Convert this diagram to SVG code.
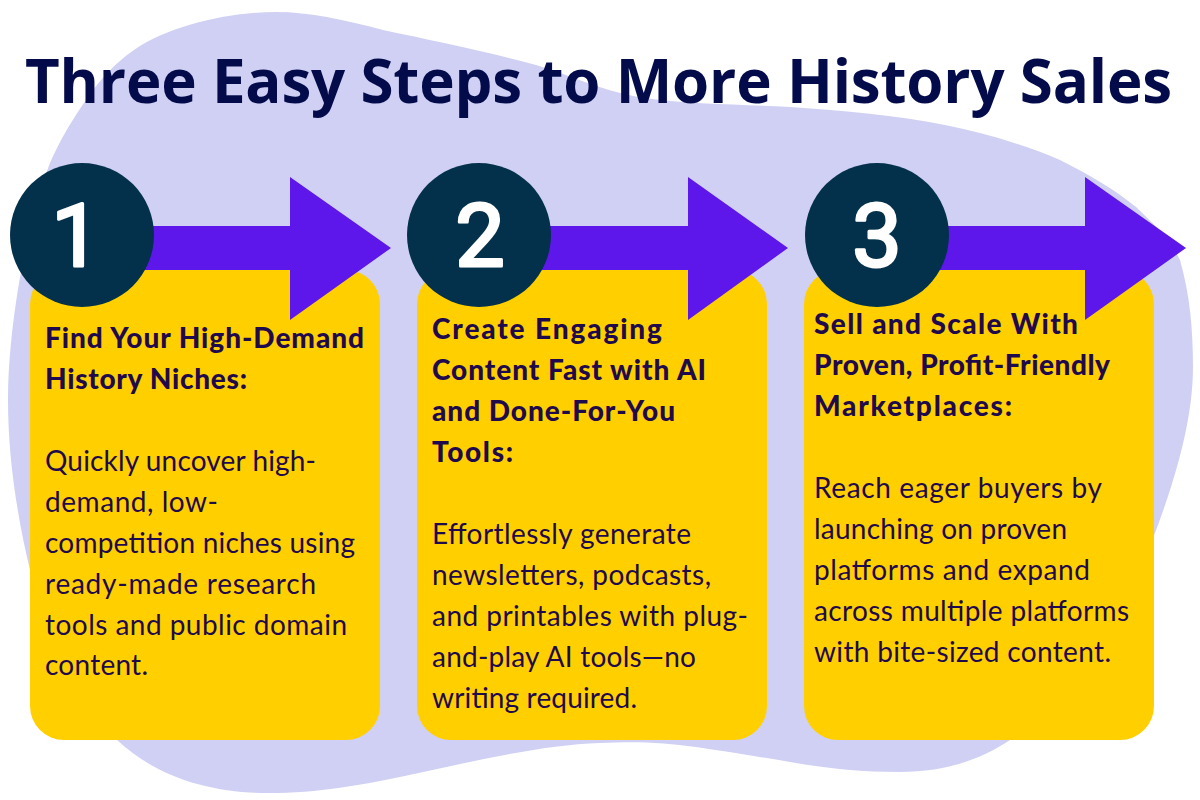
<svg xmlns="http://www.w3.org/2000/svg" width="1200" height="800" viewBox="0 0 1200 800">
<style>
.t{font-family:"Open Sans","Noto Sans",sans-serif;font-weight:700;font-size:60px;fill:#030b4b}
.b{font-family:"Lato","Noto Sans",sans-serif;font-weight:900;font-size:28px;fill:#1f0a4d}
.r{font-family:"Lato","Noto Sans",sans-serif;font-weight:400;font-size:28px;fill:#1f0a4d}
.n{font-family:Roboto,"Liberation Sans",sans-serif;font-size:88px;fill:#fff;stroke:#fff;stroke-width:3;stroke-linejoin:round;text-anchor:middle}
.card{fill:#ffcf00}
.arrow{fill:#5e17eb}
.c{fill:#03314b}
</style>
<path id="blob" fill="#d0d0f4" d="M276 12C230 12 170 25 134 50C115 63 100 80 88 97C72 120 60 140 50 163C35 200 26 245 19 283C12 325 8 365 8 400C8 460 18 520 30 570C45 640 80 705 117 740C160 780 215 793 268 793C320 793 360 785 400 777C470 762 540 745 600 743C640 741 665 743 696 747C730 752 760 757 790 762C830 769 865 772 899 772C945 772 980 760 1010 740C1075 695 1125 610 1155 533C1175 480 1193 420 1193 367C1193 330 1190 295 1180 260C1170 240 1155 225 1136 207C1115 190 1090 175 1060 160C1025 145 985 133 945 125C895 115 845 111 790 107C740 104 690 105 638 97C600 90 570 75 536 65C480 50 430 40 383 30C345 20 310 12 276 12Z"/>
<text class="t" x="25" y="103" textLength="1147">Three Easy Steps to More History Sales</text>
<g id="step1">
<rect class="card" x="30" y="270" width="350" height="470" rx="34"/>
<polygon class="arrow" points="140,226 290,226 290,177 391,248 290,320 290,270 140,270"/>
<circle class="c" cx="82" cy="235" r="72"/>
<text class="n" x="76" y="266">1</text>
<text class="b" x="45" y="348" textLength="319">Find Your High-Demand</text>
<text class="b" x="45" y="389" textLength="202">History Niches:</text>
<text class="r" x="45" y="471" textLength="271">Quickly uncover high-</text>
<text class="r" x="45" y="512" textLength="173">demand, low-</text>
<text class="r" x="45" y="553" textLength="310">competition niches using</text>
<text class="r" x="45" y="594" textLength="271">ready-made research</text>
<text class="r" x="45" y="635" textLength="302">tools and public domain</text>
<text class="r" x="45" y="675" textLength="103">content.</text>
</g>
<g id="step2">
<rect class="card" x="417" y="270" width="350" height="470" rx="34"/>
<polygon class="arrow" points="540,226 688,226 688,177 788,248 688,320 688,270 540,270"/>
<circle class="c" cx="479" cy="235" r="72"/>
<text class="n" x="480" y="266">2</text>
<text class="b" x="432" y="339" textLength="230">Create Engaging</text>
<text class="b" x="432" y="380" textLength="274">Content Fast with AI</text>
<text class="b" x="432" y="421" textLength="243">and Done-For-You</text>
<text class="b" x="432" y="462" textLength="81">Tools:</text>
<text class="r" x="432" y="544" textLength="259">Effortlessly generate</text>
<text class="r" x="432" y="585" textLength="279">newsletters, podcasts,</text>
<text class="r" x="432" y="626" textLength="316">and printables with plug-</text>
<text class="r" x="432" y="667" textLength="264">and-play AI tools—no</text>
<text class="r" x="432" y="708" textLength="205">writing required.</text>
</g>
<g id="step3">
<rect class="card" x="804" y="270" width="350" height="470" rx="34"/>
<polygon class="arrow" points="935,226 1085,226 1085,177 1186,248 1085,320 1085,270 935,270"/>
<circle class="c" cx="877" cy="235" r="72"/>
<text class="n" x="877" y="266">3</text>
<text class="b" x="814" y="334" textLength="264">Sell and Scale With</text>
<text class="b" x="814" y="375" textLength="296">Proven, Profit-Friendly</text>
<text class="b" x="814" y="416" textLength="198">Marketplaces:</text>
<text class="r" x="814" y="498" textLength="288">Reach eager buyers by</text>
<text class="r" x="814" y="539" textLength="253">launching on proven</text>
<text class="r" x="814" y="580" textLength="276">platforms and expand</text>
<text class="r" x="814" y="621" textLength="315">across multiple platforms</text>
<text class="r" x="814" y="662" textLength="297">with bite-sized content.</text>
</g>
</svg>
